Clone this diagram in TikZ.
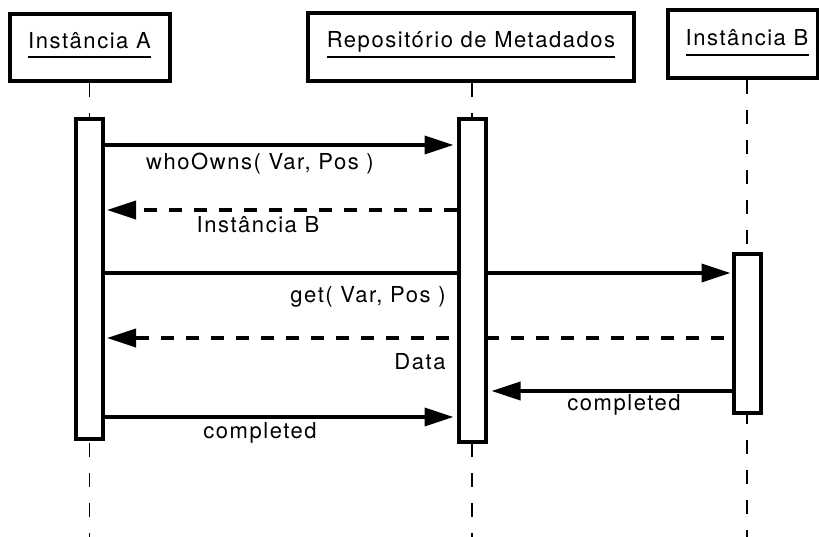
\documentclass[tikz,border=0pt]{standalone}
\usepackage{fontspec}
\setmainfont[LetterSpace=7]{TeX Gyre Heros}
\usetikzlibrary{arrows.meta}
\begin{document}
\begin{tikzpicture}[x=1pt,y=-1pt,
  hdr/.style={draw, line width=4pt, fill=white, inner sep=0pt},
  act/.style={draw, line width=4pt, fill=white, inner sep=0pt, minimum width=27pt},
  txt/.style={font=\fontsize{22}{26}\selectfont, inner sep=0pt, anchor=base},
  uline/.style={line width=1.6pt},
  life/.style={line width=1.8pt, dash pattern=on 14pt off 16pt},
  msg/.style={line width=3.5pt, -{Triangle[length=29pt,width=18pt]}},
  ret/.style={msg, dash pattern=on 13pt off 12pt}]
\useasboundingbox (0,0) rectangle (819,536);
% header boxes
\node[hdr, minimum width=160pt, minimum height=67pt] (hA) at (90,47.5) {};
\node[hdr, minimum width=326pt, minimum height=68pt] (hR) at (471,47) {};
\node[hdr, minimum width=150pt, minimum height=68pt] (hB) at (743,44) {};
\node[txt] (tA) at (89.5,48) {Instância A};
\node[txt] (tR) at (471,47) {Repositório de Metadados};
\node[txt] (tB) at (747,45) {Instância B};
\draw[uline] ([yshift=-9pt]tA.base west) -- ([yshift=-9pt]tA.base east);
\draw[uline] ([yshift=-10pt]tR.base west) -- ([yshift=-10pt]tR.base east);
\draw[uline] ([yshift=-10pt]tB.base west) -- ([yshift=-10pt]tB.base east);
% lifelines
\coordinate (lA) at (89.5,545);
\coordinate (lR) at (472,545);
\coordinate (lB) at (747,545);
\draw[life] (hA.south -| lA) -- (lA);
\draw[life] (hR.south -| lR) -- (lR);
\draw[life] (hB.south -| lB) -- (lB);
% activation boxes A and B
\node[act, minimum height=320pt] (aA) at (lA |- 0,279) {};
\node[act, minimum height=159pt] (aB) at (lB |- 0,333.5) {};
% messages passing behind the repository activation
\draw[msg] (aA.east |- 0,273) -- ([xshift=-1pt]aB.west |- 0,273);
\draw[ret] ([xshift=-8pt]aB.west |- 0,338) -- ([xshift=2pt]aA.east |- 0,338);
% repository activation
\node[act, minimum height=323pt] (aR) at (lR |- 0,280.5) {};
% other messages
\draw[msg] (aA.east |- 0,145) -- ([xshift=-3pt]aR.west |- 0,145);
\draw[ret] (aR.west |- 0,210) -- ([xshift=2pt]aA.east |- 0,210);
\draw[msg] (aB.west |- 0,391) -- ([xshift=4pt]aR.east |- 0,391);
\draw[msg] (aA.east |- 0,417) -- ([xshift=-3pt]aR.west |- 0,417);
% labels
\node[txt] (m1) at (260,169) {whoOwns( Var, Pos )};
\node[txt] (m2) at (258,232) {Instância B};
\node[txt] (m3) at (368,302) {get( Var, Pos )};
\node[txt] (m4) at (420,369) {Data};
\node[txt] (m5) at (624,410) {completed};
\node[txt] (m6) at (260,438) {completed};
\end{tikzpicture}
\end{document}
